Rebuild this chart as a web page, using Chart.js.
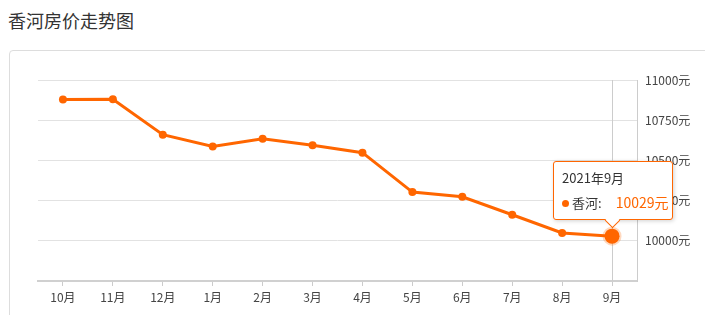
<!DOCTYPE html>
<html>
<head>
<meta charset="utf-8">
<script src="https://cdn.jsdelivr.net/npm/chart.js@4/dist/chart.umd.min.js"></script>
<style>
  html, body { margin: 0; padding: 0; background: #fff; }
  body { width: 705px; height: 315px; position: relative; overflow: hidden;
         font-family: "Noto Sans CJK SC", "Noto Sans", sans-serif; }
  .title { position: absolute; left: 8px; top: 8px; font-size: 18px; color: #333; line-height: 24px; }
  .card { position: absolute; left: 9px; top: 50px; width: 720px; height: 300px;
          border: 1px solid #ddd; border-radius: 4px; box-sizing: border-box; }
  #wrap { position: absolute; left: 0; top: 0; width: 705px; height: 315px; }
  #tip { position: absolute; background: #fff; border: 1px solid #ff6600; border-radius: 3px;
         box-shadow: 1px 1px 4px rgba(0,0,0,0.18); padding: 7px 8px 6px 8px; font-size: 13px;
         color: #333; white-space: nowrap; display: none; box-sizing: border-box; width: 120px; height: 59px; }
  #tip .row1 { line-height: 18px; }
  #tip .row2 { line-height: 18px; margin-top: 6px; }
  #tip .dot { display: inline-block; width: 7px; height: 7px; border-radius: 50%; background: #ff6600;
              margin-right: 3px; vertical-align: 1px; }
  #tip .val { color: #ff6600; margin-left: 14px; font-size: 14px; }
  #tip:after { content: ""; position: absolute; left: 53px; bottom: -7px; width: 10px; height: 10px;
               background: #fff; border-right: 1px solid #ff6600; border-bottom: 1px solid #ff6600;
               transform: rotate(45deg); }
</style>
</head>
<body>
<div class="title">香河房价走势图</div>
<div class="card"></div>
<div id="wrap"><canvas id="chart" width="705" height="315"></canvas></div>
<div id="tip"></div>
<script>
// 数据
const months = ['10月', '11月', '12月', '1月', '2月', '3月', '4月', '5月', '6月', '7月', '8月', '9月'];
const fullMonths = ['2020年10月', '2020年11月', '2020年12月', '2021年1月', '2021年2月', '2021年3月',
                    '2021年4月', '2021年5月', '2021年6月', '2021年7月', '2021年8月', '2021年9月'];
const prices = [10878, 10880, 10660, 10587, 10635, 10594, 10548, 10303, 10274, 10162, 10049, 10029];
const yTicks = [9750, 10000, 10250, 10500, 10750, 11000];

const orange = '#ff6600';

// 外部提示框
function externalTip(context) {
    const tip = document.getElementById('tip');
    const model = context.tooltip;
    if (model.opacity === 0 || !model.dataPoints || !model.dataPoints.length) {
        tip.style.display = 'none';
        return;
    }
    const p = model.dataPoints[0];
    tip.innerHTML = '<div class="row1">' + fullMonths[p.dataIndex] + '</div>' +
        '<div class="row2"><span class="dot"></span>香河:<span class="val">' + prices[p.dataIndex] + '元</span></div>';
    tip.style.display = 'block';
    tip.style.left = (model.caretX - 59) + 'px';
    tip.style.top = (model.caretY - 75) + 'px';
}

// 竖直指示线
const crosshair = {
    id: 'crosshair',
    beforeDatasetsDraw(chart) {
        const active = chart.getActiveElements();
        if (!active.length) return;
        const x = active[0].element.x;
        const ctx = chart.ctx;
        ctx.save();
        ctx.strokeStyle = '#cccccc';
        ctx.lineWidth = 1;
        ctx.beginPath();
        ctx.moveTo(Math.round(x) + 0.5, chart.chartArea.top);
        ctx.lineTo(Math.round(x) + 0.5, chart.chartArea.bottom);
        ctx.stroke();
        ctx.restore();
    }
};

const chart = new Chart(document.getElementById('chart'), {
    type: 'line',
    data: {
        labels: months,
        datasets: [{
            label: '香河',
            data: prices,
            borderColor: orange,
            backgroundColor: orange,
            borderWidth: 3,
            pointRadius: 4,
            pointBackgroundColor: orange,
            pointBorderWidth: 0,
            pointHoverRadius: 7.5,
            pointHoverBackgroundColor: orange,
            pointHoverBorderColor: 'rgba(255,102,0,0.25)',
            pointHoverBorderWidth: 4,
            tension: 0
        }]
    },
    options: {
        responsive: false,
        animation: false,
        events: [],
        layout: { padding: { left: 38, top: 80, right: 0, bottom: 0 } },
        plugins: {
            legend: { display: false },
            tooltip: { enabled: false, external: externalTip }
        },
        scales: {
            x: {
                offset: true,
                grid: { display: true, drawOnChartArea: false, offset: false, tickLength: 5, color: '#cccccc' },
                border: { display: true, color: '#d0d0d0', width: 2 },
                ticks: { color: '#444', padding: 4, font: { size: 12, family: '"Noto Sans CJK SC", sans-serif' } },
                afterFit(scale) { scale.height = 34; }
            },
            y: {
                position: 'right',
                min: 9750,
                max: 11000,
                afterBuildTicks(scale) { scale.ticks = yTicks.map(v => ({ value: v })); },
                grid: { color: '#e2e2e2', drawTicks: false },
                border: { display: true, color: '#cccccc' },
                ticks: {
                    color: '#444',
                    padding: 8,
                    font: { size: 12, family: '"Noto Sans CJK SC", sans-serif' },
                    callback: v => v === 9750 ? '' : v + '元'
                },
                afterFit(scale) { scale.width = 68; }
            }
        }
    },
    plugins: [crosshair]
});

// 默认显示最后一个点
const act = [{ datasetIndex: 0, index: prices.length - 1 }];
chart.setActiveElements(act);
chart.tooltip.setActiveElements(act, { x: 0, y: 0 });
chart.update('none');
</script>
</body>
</html>
